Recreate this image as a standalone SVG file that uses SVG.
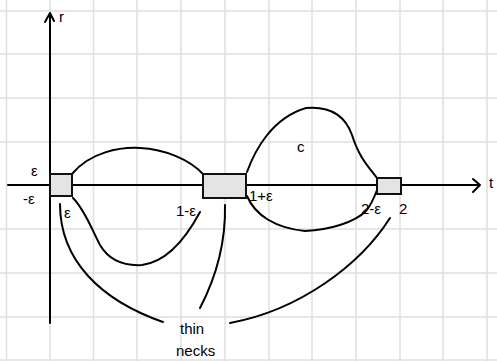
<svg xmlns="http://www.w3.org/2000/svg" width="497" height="361" viewBox="0 0 497 361">
<style>
.grid{stroke:#e0e0e0;stroke-width:1.5}
.ax{stroke:#000;stroke-width:2;fill:none;stroke-linecap:round;stroke-linejoin:round}
.c{stroke:#000;stroke-width:2;fill:none;stroke-linecap:round}
.box{fill:#e4e4e4;stroke:#111;stroke-width:2}
text{font-family:"Liberation Sans","DejaVu Sans",sans-serif;fill:#000;font-size:15px}
</style>
<rect width="497" height="361" fill="#fff"/>
<g id="grid">
<path class="grid" d="M6.5,0V361M50,0V361M93.5,0V361M137,0V361M181,0V361M225,0V361M269,0V361M312,0V361M356,0V361M400,0V361M443,0V361M487,0V361"/>
<path class="grid" d="M0,11H497M0,54H497M0,98H497M0,142H497M0,229H497M0,273H497M0,317H497M0,360H497"/>
</g>
<g id="axes">
<path class="ax" d="M50,323V13M45,22L50,13L54,21"/>
<path class="ax" d="M8,185H480M473,179L480,185L473,192"/>
<text x="59" y="22">r</text>
<text x="489" y="188">t</text>
</g>
<g id="connectors">
<path class="c" d="M72,174C90,152 120,147 140,148C165,149 190,160 203,174"/>
<path class="c" d="M73,198C85,210 92,230 100,245C110,262 125,266 142,265C165,262 185,240 200,212"/>
<path class="c" d="M247,172C255,150 272,118 306,108C330,106 345,115 352,135C360,160 370,168 377,178"/>
<path class="c" d="M247,196C255,215 275,228 305,231C330,230 355,222 366,211C371,205 374,198 377,190"/>
<path class="c" d="M60,204C60,260 100,300 163,322"/>
<path class="c" d="M225,205C226,250 212,285 200,308"/>
<path class="c" d="M390,218C360,265 300,310 230,323"/>
</g>
<g id="neck1"><rect class="box" x="50" y="174" width="22" height="22"/></g>
<g id="neck2"><rect class="box" x="203" y="174" width="43" height="24"/></g>
<g id="neck3"><rect class="box" x="377" y="178" width="24" height="16"/></g>
<g id="labels">
<text x="31" y="176">ε</text>
<text x="23" y="204">-ε</text>
<text x="64" y="218">ε</text>
<text x="176" y="216">1-ε</text>
<text x="249" y="201">1+ε</text>
<text x="361" y="214">2-ε</text>
<text x="399" y="214">2</text>
<text x="297" y="152" font-size="22">c</text>
<text x="180" y="334" font-size="16">thin</text>
<text x="176" y="356" font-size="16">necks</text>
</g>
</svg>
